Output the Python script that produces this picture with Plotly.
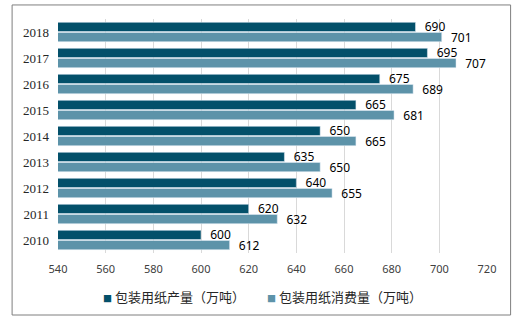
import plotly.graph_objects as go

years = ["2010", "2011", "2012", "2013", "2014", "2015", "2016", "2017", "2018"]
production = [600, 620, 640, 635, 650, 665, 675, 695, 690]
consumption = [612, 632, 655, 650, 665, 681, 689, 707, 701]

name_prod = "包装用纸产量（万吨）"
name_cons = "包装用纸消费量（万吨）"
x_ticks = [540, 560, 580, 600, 620, 640, 660, 680, 700, 720]

dark = "#03506A"
light = "#5D93A9"
label_font = dict(family="Noto Sans, Liberation Sans, sans-serif", size=12, color="#000000")
legend_font = dict(family="Noto Sans CJK SC, sans-serif", size=13, color="#262626")

fig = go.Figure()
# consumption first so that it sits below production inside each year group
fig.add_trace(go.Bar(
    y=years, x=consumption, orientation="h", name=name_cons,
    marker_color=light, text=consumption, texttemplate="  %{x}",
    textposition="outside", textfont=label_font, cliponaxis=False,
    constraintext="none", showlegend=False,
))
fig.add_trace(go.Bar(
    y=years, x=production, orientation="h", name=name_prod,
    marker_color=dark, text=production, texttemplate="  %{x}",
    textposition="outside", textfont=label_font, cliponaxis=False,
    constraintext="none", showlegend=False,
))

# legend entries: small coloured square followed by the series name
legend_items = [(name_prod, dark, 0.1), (name_cons, light, 0.483)]
annotations = [
    dict(
        xref="paper", yref="paper", x=xpos, y=-0.188, xanchor="left", yanchor="middle",
        text=f'<span style="color:{color};font-size:9px">■</span> {name}',
        showarrow=False, font=legend_font,
    )
    for name, color, xpos in legend_items
]

fig.update_layout(
    width=523, height=324,
    margin=dict(l=58, r=36, t=19, b=71),
    paper_bgcolor="white", plot_bgcolor="white",
    barmode="group", bargap=0.22, bargroupgap=0.1,
    xaxis=dict(
        range=[540, 720], tickvals=x_ticks, showgrid=True, gridcolor="#D9D9D9",
        gridwidth=1, zeroline=False, showline=False, ticks="",
        ticklabelstandoff=8,
        tickfont=dict(family="Noto Sans, Liberation Sans, sans-serif", size=11, color="#404040"),
    ),
    yaxis=dict(
        type="category", categoryorder="array", categoryarray=years,
        showgrid=False, zeroline=False, showline=False, ticks="",
        ticklabelstandoff=8,
        tickfont=dict(family="Liberation Serif, serif", size=13, color="#262626"),
    ),
    annotations=annotations,
    shapes=[dict(
        type="rect", xref="paper", yref="paper",
        x0=-0.107, x1=1.055, y0=-0.265, y1=1.06,
        line=dict(color="#7F7F7F", width=1), fillcolor="rgba(0,0,0,0)", layer="below",
    )],
)

fig.write_html("out.html")
